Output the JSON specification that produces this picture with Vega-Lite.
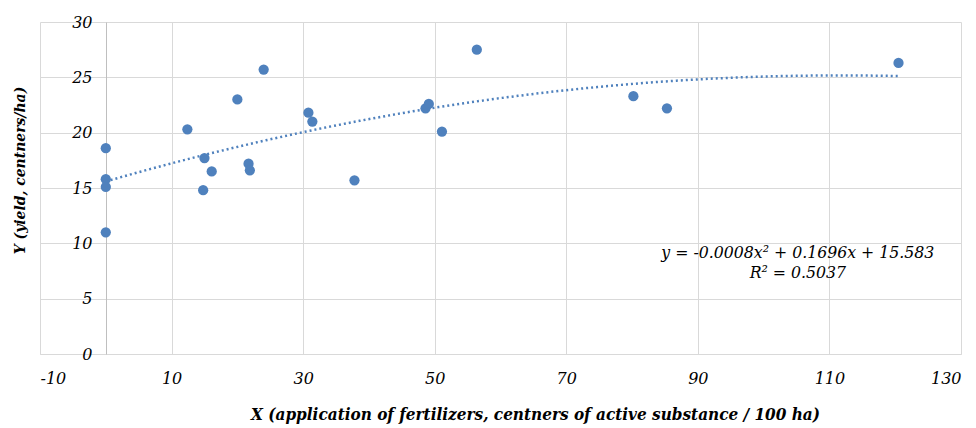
{
  "$schema": "https://vega.github.io/schema/vega-lite/v6.json",
  "width": 921,
  "height": 332,
  "autosize": {"type": "none"},
  "padding": {"left": 40, "top": 22, "right": 15, "bottom": 74},
  "background": "white",
  "config": {
    "view": {"stroke": null},
    "axis": {
      "labelFont": "DejaVu Serif",
      "labelFontStyle": "italic",
      "labelFontSize": 16,
      "labelColor": "#000000",
      "titleFont": "DejaVu Serif Condensed",
      "titleFontStyle": "italic",
      "titleFontWeight": "bold",
      "titleFontSize": 17,
      "titleColor": "#000000",
      "gridColor": "#d9d9d9",
      "gridWidth": 1,
      "ticks": false,
      "domainColor": "#bfbfbf"
    }
  },
  "datasets": {
    "pts": [
      {"x": 0, "y": 18.6},
      {"x": 0, "y": 15.8},
      {"x": 0, "y": 15.1},
      {"x": 0, "y": 11.0},
      {"x": 12.4, "y": 20.3},
      {"x": 15.0, "y": 17.7},
      {"x": 14.8, "y": 14.8},
      {"x": 16.1, "y": 16.5},
      {"x": 20.0, "y": 23.0},
      {"x": 21.7, "y": 17.2},
      {"x": 21.9, "y": 16.6},
      {"x": 24.0, "y": 25.7},
      {"x": 30.8, "y": 21.8},
      {"x": 31.4, "y": 21.0},
      {"x": 37.8, "y": 15.7},
      {"x": 48.6, "y": 22.2},
      {"x": 49.1, "y": 22.6},
      {"x": 51.1, "y": 20.1},
      {"x": 56.4, "y": 27.5},
      {"x": 80.2, "y": 23.3},
      {"x": 85.3, "y": 22.2},
      {"x": 120.5, "y": 26.3}
    ],
    "notes": [
      {"x": 105.2, "y": 9.1, "t": "y = -0.0008x² + 0.1696x + 15.583"},
      {"x": 105.2, "y": 7.3, "t": "R² = 0.5037"}
    ]
  },
  "layer": [
    {
      "data": {"name": "pts"},
      "mark": {"type": "point", "filled": true, "size": 105, "color": "#4f81bd", "opacity": 1},
      "encoding": {
        "x": {
          "field": "x", "type": "quantitative",
          "scale": {"domain": [-10, 130], "nice": false, "zero": false},
          "axis": {
            "values": [-10, 10, 30, 50, 70, 90, 110, 130],
            "labelExpr": "'' + datum.value",
            "title": "X (application of fertilizers, centners of active substance / 100 ha)",
            "labelPadding": 16,
            "titlePadding": 20,
            "titleX": 495,
            "domainColor": "#d9d9d9"
          }
        },
        "y": {
          "field": "y", "type": "quantitative",
          "scale": {"domain": [0, 30], "nice": false},
          "axis": {
            "values": [0, 5, 10, 15, 20, 25, 30],
            "title": "Y (yield, centners/ha)",
            "titleFontSize": 15.5,
            "offset": -66,
            "labelPadding": 14,
            "titleX": -79,
            "titleY": 148,
            "titleBaseline": "bottom",
            "domainColor": "#bfbfbf"
          }
        }
      }
    },
    {
      "data": {"name": "pts"},
      "transform": [
        {"regression": "y", "on": "x", "method": "poly", "order": 2, "extent": [0, 120.5]}
      ],
      "mark": {"type": "line", "color": "#4f81bd", "strokeWidth": 2.5, "strokeDash": [2, 3], "strokeCap": "butt"},
      "encoding": {
        "x": {"field": "x", "type": "quantitative"},
        "y": {"field": "y", "type": "quantitative"}
      }
    },
    {
      "data": {"name": "notes"},
      "mark": {"type": "text", "font": "DejaVu Serif Condensed", "fontStyle": "italic", "fontSize": 17.5, "align": "center", "baseline": "middle", "color": "#000000"},
      "encoding": {
        "x": {"field": "x", "type": "quantitative"},
        "y": {"field": "y", "type": "quantitative"},
        "text": {"field": "t"}
      }
    }
  ]
}
